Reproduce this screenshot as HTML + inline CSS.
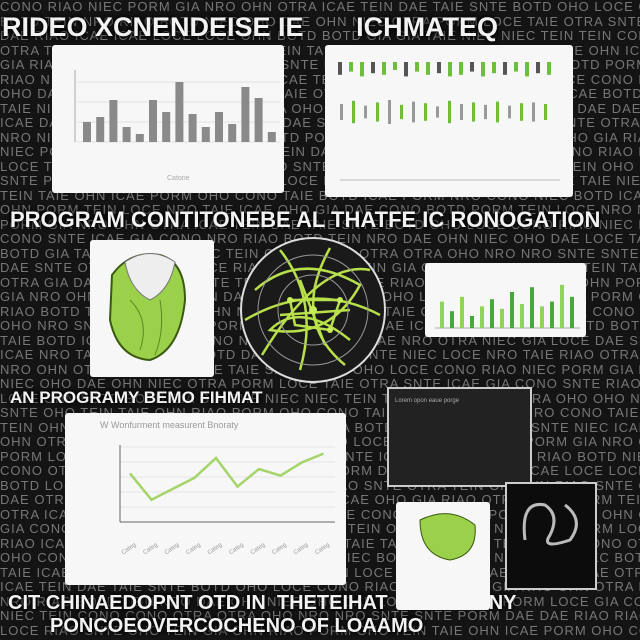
<!DOCTYPE html>
<html><head><meta charset="utf-8">
<style>
html,body{margin:0;padding:0;background:#111;}
#root{position:relative;width:640px;height:640px;overflow:hidden;background:#141414;font-family:"Liberation Sans",sans-serif;}
#bgtext{position:absolute;left:0;top:0;width:640px;height:640px;color:#8f8f8f;font-size:13px;line-height:14.5px;white-space:nowrap;overflow:hidden;letter-spacing:1px;opacity:.8;font-family:"Liberation Sans Narrow","Liberation Sans",sans-serif;}
.head{position:absolute;color:#f2f2f2;font-weight:bold;white-space:nowrap;text-shadow:0 0 3px #000,0 0 6px #000;}
.panel{position:absolute;background:#f7f7f7;border-radius:3px;}
.dark{position:absolute;background:#222;border:2px solid #ccc;}
</style></head><body>
<div id="root">
<div id="bgtext"></div>
<div class="head" style="left:2px;top:12px;font-size:27px;">RIDEO XCNENDEISE IE&nbsp;&nbsp;&nbsp;&nbsp;&nbsp;&nbsp; ICHMATEQ</div>
<div class="head" style="left:10px;top:207px;font-size:22px;">PROGRAM CONTITONEBE AL  THATFE IC RONOGATION</div>
<div class="head" style="left:10px;top:388px;font-size:17px;">AN PROGRAMY BEMO FIHMAT</div>
<div class="head" style="left:8px;top:592px;font-size:20px;">CIT CHINAEDOPNT OTD IN&nbsp; THETEIHAT&nbsp;&nbsp; SWIF PONY</div>
<div class="head" style="left:50px;top:615px;font-size:20px;">PONCOEOVERCOCHENO OF LOAAMO</div>

<div class="panel" style="left:52px;top:45px;width:232px;height:148px;"></div>
<div class="panel" style="left:325px;top:45px;width:248px;height:152px;"></div>
<div class="panel" style="left:90px;top:240px;width:124px;height:137px;"></div>
<div class="panel" style="left:425px;top:263px;width:161px;height:74px;"></div>
<div class="panel" style="left:65px;top:413px;width:281px;height:172px;"></div>
<div class="dark" style="left:387px;top:387px;width:141px;height:96px;"></div>
<div class="panel" style="left:396px;top:502px;width:94px;height:108px;"></div>
<div class="dark" style="left:505px;top:482px;width:88px;height:104px;background:#0c0c0c;"></div>

<svg id="chart" width="640" height="640" style="position:absolute;left:0;top:0">
<g id="bars1"></g><g id="strip"></g><g id="bars2"></g><g id="line"></g>
<g>
<path d="M112 275 Q130 250 160 255 Q185 262 185 300 Q180 350 150 360 Q118 358 110 320 Z" fill="#9bd04a" stroke="#3a5a10" stroke-width="2"/>
<path d="M125 262 Q150 245 175 262 Q170 290 150 300 Q130 290 125 262Z" fill="#eee" stroke="#777"/>
<path d="M130 300 Q150 320 140 350 M160 300 Q165 330 155 355" stroke="#5a8a20" fill="none"/>
<path d="M420 520 Q450 505 475 525 Q478 555 450 560 Q420 555 420 520Z" fill="#9bd04a" stroke="#3a5a10"/>
</g>
<g>
<circle cx="313" cy="310" r="72" fill="#1a1a1a" stroke="#ddd" stroke-width="2"/>
<g fill="none" stroke="#b8e04a" stroke-width="2.5">
<path d="M255 290 Q300 250 360 285 Q330 340 270 330 Q300 300 350 340"/>
<path d="M280 250 Q320 300 300 370 M330 248 Q290 320 345 365"/>
<path d="M245 320 Q313 280 380 315 M262 355 Q320 260 370 270"/>
<path d="M290 300 L340 300 L330 330 L295 325 Z M300 280 L325 345 M280 315 L350 310"/>
</g>
<g fill="#c8ec5a"><circle cx="313" cy="310" r="4"/><circle cx="290" cy="300" r="3"/><circle cx="340" cy="300" r="3"/><circle cx="330" cy="330" r="3"/></g>
<g fill="none" stroke="#999" stroke-width="1"><circle cx="313" cy="310" r="55"/><circle cx="313" cy="310" r="35"/></g>
</g>
<g fill="none" stroke="#bbb" stroke-width="3">
<path d="M525 540 Q520 500 545 505 Q560 515 550 535 Q540 550 570 540 Q585 520 565 505"/>
</g>
<text x="100" y="428" font-size="9" fill="#999">W Wonfurment measurent Bnoraty</text>
<text x="167" y="180" font-size="7" fill="#aaa">Catone</text>
<text x="395" y="402" font-size="6" fill="#aaa">Lorem opon eaue porge</text>
</svg>
</div>
<script>
const words=["CONO","TAIE","OHN","RIAO","SNTE","OTRA","NIEC","BOTD","ICAE","PORM","OHO","TEIN","GIA","LOCE","DAE","NRO"];
let html="";for(let r=0;r<46;r++){let s="";for(let i=0;i<30;i++)s+=words[(r*7+i*3+(r*i)%5)%words.length]+" ";html+=s+"<br>";}
document.getElementById('bgtext').innerHTML=html;

const NS="http://www.w3.org/2000/svg";
function mk(t,a,p){const e=document.createElementNS(NS,t);for(const k in a)e.setAttribute(k,a[k]);p.appendChild(e);return e;}

const bar1Values=[20,25,42,15,8,42,30,60,28,15,30,18,55,44,10];
const g1=document.getElementById('bars1');
const b1x=i=>83+i*13.2, b1y=v=>142-v*1.0;
mk('line',{x1:75,y1:142,x2:280,y2:142,stroke:'#aaa'},g1);
mk('line',{x1:75,y1:70,x2:75,y2:142,stroke:'#aaa'},g1);
for(let j=0;j<4;j++)mk('line',{x1:75,y1:142-j*20,x2:280,y2:142-j*20,stroke:'#e2e2e2'},g1);
bar1Values.forEach((v,i)=>{const r=mk('rect',{x:b1x(i),y:b1y(v),width:8,height:142-b1y(v),fill:'#8a8a8a'},g1);

});

const stripRow1=[8,6,9,7,8,5,9,6,8,7,9,8,6,9,7,8,6,9,7,8];
const stripRow2=[10,14,8,12,15,9,13,11,7,14,10,12,9,13,8,11,12,10];
const gs=document.getElementById('strip');
stripRow1.forEach((v,i)=>{const r=mk('rect',{x:338+i*11,y:62,width:4,height:v*1.6,fill:i%3?'#6cbf3a':'#555'},gs);

});
stripRow2.forEach((v,i)=>{const r=mk('rect',{x:340+i*12,y:112-v*0.8,width:3,height:v*1.6,fill:i%2?'#6cbf3a':'#999'},gs);

});
mk('line',{x1:340,y1:180,x2:560,y2:180,stroke:'#bbb'},gs);

const bar2Values=[22,14,26,10,18,24,16,30,20,34,18,22,36,26];
const g2=document.getElementById('bars2');
const b2x=i=>440+i*10, b2y=v=>328-v*1.2;
mk('line',{x1:435,y1:328,x2:580,y2:328,stroke:'#aaa'},g2);
bar2Values.forEach((v,i)=>{const r=mk('rect',{x:b2x(i),y:b2y(v),width:4,height:328-b2y(v),fill:i%2?'#49a83c':'#8fd35a'},g2);

});

const lineValues=[26,2,12,22,40,14,30,24,36,44];
const gl=document.getElementById('line');
const lx=i=>130+i*21.5, ly=v=>502-v*1.1;
for(let j=0;j<6;j++)mk('line',{x1:120,y1:522-j*15,x2:335,y2:522-j*15,stroke:'#e4e4e4'},gl);
mk('line',{x1:120,y1:522,x2:335,y2:522,stroke:'#666'},gl);
mk('line',{x1:120,y1:445,x2:120,y2:522,stroke:'#666'},gl);
const p=mk('polyline',{points:lineValues.map((v,i)=>lx(i)+','+ly(v)).join(' '),fill:'none',stroke:'#a5d46a','stroke-width':2.5},gl);


lineValues.forEach((v,i)=>{const t=mk('text',{x:lx(i)-14,y:548,'font-size':6,fill:'#999',transform:`rotate(-35 ${lx(i)} 540)`},gl);t.textContent='Categ';

});
</script>
</body></html>
